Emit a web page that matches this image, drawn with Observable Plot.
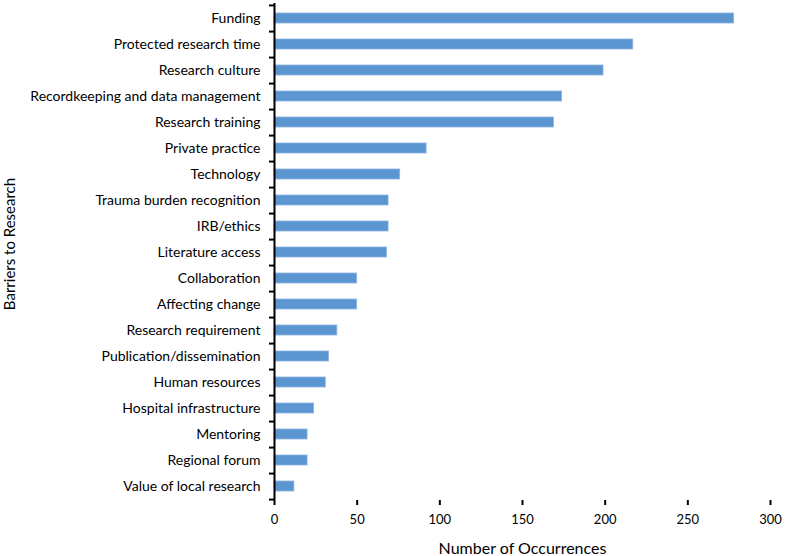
<!DOCTYPE html>
<html><head><meta charset="utf-8">
<script src="https://cdn.jsdelivr.net/npm/d3@7"></script>
<script src="https://cdn.jsdelivr.net/npm/@observablehq/plot@0.6"></script>
<style>body{margin:0;background:#fff}</style>
</head><body><div id="chart"></div>
<script>
const categories = [
  "Funding",
  "Protected research time",
  "Research culture",
  "Recordkeeping and data management",
  "Research training",
  "Private practice",
  "Technology",
  "Trauma burden recognition",
  "IRB/ethics",
  "Literature access",
  "Collaboration",
  "Affecting change",
  "Research requirement",
  "Publication/dissemination",
  "Human resources",
  "Hospital infrastructure",
  "Mentoring",
  "Regional forum",
  "Value of local research"
];
const counts = [278, 217, 199, 174, 169, 92, 76, 69, 69, 68, 50, 50, 38, 33, 31, 24, 20, 20, 12];
const xTicks = [0, 50, 100, 150, 200, 250, 300];
const yTitle = "Barriers to Research";
const xTitle = "Number of Occurrences";

const data = categories.map((c, i) => ({barrier: c, count: counts[i]}));
const W = 787, H = 556, mt = 3, mb = 56, ml = 274, mr = 17;
const step = (H - mt - mb) / categories.length;

const plot = Plot.plot({
  width: W, height: H,
  marginTop: mt, marginBottom: mb, marginLeft: ml, marginRight: mr,
  style: {fontFamily: "Lato, 'Open Sans', sans-serif", fontSize: "13px", color: "#000", background: "#fff"},
  x: {domain: [0, 300]},
  y: {domain: categories, paddingInner: 0.62, paddingOuter: 0.31},
  marks: [
    Plot.barX(data, {x: "count", y: "barrier", fill: "#5b96d0", stroke: "#8cb5e0", strokeWidth: 0.8}),
    Plot.axisY({tickSize: 0, tickPadding: 14, label: null, fontSize: 14}),
    Plot.axisY(categories, {tickSize: 5, tickFormat: () => "", dy: step / 2, label: null, strokeWidth: 2}),
    Plot.axisY([categories[0]], {tickSize: 5, tickFormat: () => "", dy: -step / 2, label: null, strokeWidth: 2}),
    Plot.ruleX([0], {strokeWidth: 2}),
    Plot.axisX(xTicks, {tickSize: 5, tickPadding: 9, label: null, line: true, strokeWidth: 2, fontSize: 13}),
    Plot.text([yTitle], {frameAnchor: "left", textAnchor: "middle", rotate: -90, dx: -264, dy: -8, fontSize: 15}),
    Plot.text([xTitle], {frameAnchor: "bottom", dy: 53, fontSize: 16})
  ]
});
document.getElementById("chart").appendChild(plot);
</script>
</body></html>
